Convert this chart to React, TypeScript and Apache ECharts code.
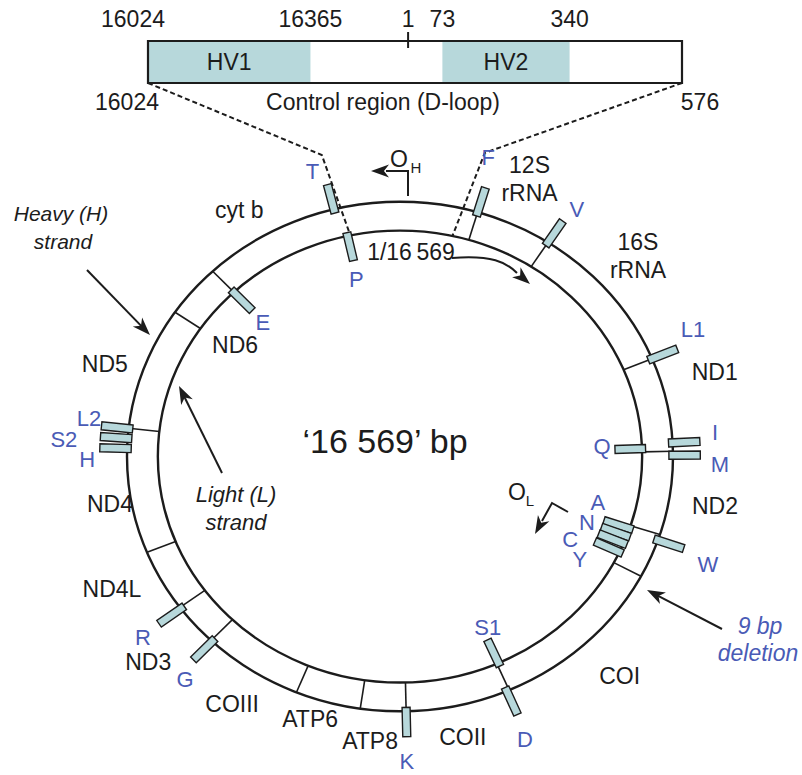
import React, { useEffect, useRef } from "react";
import * as echarts from "echarts";

// ---------------- data ----------------
const GENOME_LENGTH = 16569;
const CONTROL_START = 16024;
const CONTROL_END = 576;

const geneNames = ["12S\nrRNA", "16S\nrRNA", "ND1", "ND2", "COI", "COII", "ATP8", "ATP6", "COIII", "ND3", "ND4L", "ND4", "ND5", "ND6", "cyt b"];
// bp positions of the gene boundaries drawn across the ring
const geneBoundaries = [760, 1510, 3102, 4087, 4962, 5431, 7200, 8225, 8670, 9310, 10300, 10756, 11410, 12720, 14015, 14575];

const trnaNames = ["F", "V", "L1", "I", "Q", "M", "W", "A", "N", "C", "Y", "S1", "D", "K", "G", "R", "H", "S2", "L2", "E", "T", "P"];
const trnaPositions = [760, 1510, 3102, 4000, 4050, 4128, 5025, 4998, 5090, 5182, 5293, 7180, 7225, 8225, 10285, 10740, 12510, 12615, 12717, 14572, 15925, 15994];
const trnaStrands = ["H", "H", "H", "H", "L", "H", "H", "L", "L", "L", "L", "L", "H", "H", "H", "H", "H", "H", "H", "L", "H", "L"];

const hvNames = ["HV1", "HV2"];
const hvStarts = [16024, 73];
const hvEnds = [16365, 340];
const boxTickLabels = ["16024", "16365", "1", "73", "340"];
const boxTickPositions = [16024, 16365, 1, 73, 340];
const boxEndLabels = ["16024", "576"];
const boxEndPositions = [16024, 576];
const originPosition = 1;
const genomeSizeLabel = "\u201816 569\u2019 bp";
const originLabel = "1/16\u2009569";

// ---------------- layout & style ----------------
const CX = 400, CY = 457, RX = 273, RY = 255;
const INNER = 0.887;
const OUT_BAR = [0.985, 1.1];
const IN_BAR = [0.9, 0.788];
const BAR_WIDTH = 8;
const FONT = "'Liberation Sans', Arial, Helvetica, sans-serif";
const BLACK = "#1c1c1c";
const BLUE = "#4a5bb6";
const TEAL = "#b7d8db";
const GENE_FS = 23;
const TRNA_FS = 22;

// label centres as [angle in degrees clockwise from top, radius relative to outer ring]
const geneLabelPolar = [
  [23.5, 1.19], [47.9, 1.175], [73.9, 1.2], [99.6, 1.17], [137, 1.18], [168.2, 1.126], [185.6, 1.123], [197.7, 1.083],
  [212.3, 1.151], [228.9, 1.224], [243.7, 1.177], [260, 1.079], [288.5, 1.14], [306, 0.747], [328.7, 1.134],
];
const trnaLabelPolar = [
  [15.4, 1.216], [33.8, 1.165], [65.1, 1.183], [85.3, 1.158], [87, 0.741], [91.5, 1.172], [110.6, 1.205], [104, 0.747],
  [110.7, 0.732], [117.6, 0.703], [121.5, 0.773], [154.4, 0.744], [157.6, 1.2], [178.8, 1.196], [222, 1.177], [233, 1.179],
  [269.4, 1.146], [273.1, 1.233], [277.5, 1.149], [316.3, 0.727], [344, 1.163], [347, 0.712],
];
const boxTickShift = [-15, 0, 0, 0, 0];
const boxEndShift = [-21, 18];
const connectorBends = [[-13.6, 1.218], [14.6, 1.232]];

const toSigned = (bp: number) => (bp >= CONTROL_START ? bp - GENOME_LENGTH : bp);
const bpDeg = (bp: number) => (bp / GENOME_LENGTH) * 360;
const polar = (deg: number, r: number) => {
  const a = (deg * Math.PI) / 180;
  return [r * Math.sin(a), r * Math.cos(a)];
};

function barPolygon(a: number[], b: number[], w: number) {
  const dx = b[0] - a[0], dy = b[1] - a[1];
  const d = Math.hypot(dx, dy) || 1;
  const nx = (-dy / d) * (w / 2), ny = (dx / d) * (w / 2);
  return [
    [a[0] + nx, a[1] + ny], [b[0] + nx, b[1] + ny], [b[0] - nx, b[1] - ny], [a[0] - nx, a[1] - ny],
  ];
}

function arrowHead(tx: number, ty: number, ux: number, uy: number, len = 18, half = 6.5) {
  const nx = -uy, ny = ux;
  const bx = tx - ux * len, by = ty - uy * len;
  const mx = tx - ux * len * 0.72, my = ty - uy * len * 0.72;
  return {
    type: "polygon",
    silent: true,
    shape: { points: [[tx, ty], [bx + nx * half, by + ny * half], [mx, my], [bx - nx * half, by - ny * half]] },
    style: { fill: BLACK },
  };
}

function straightArrow(x1: number, y1: number, x2: number, y2: number) {
  const dx = x2 - x1, dy = y2 - y1, d = Math.hypot(dx, dy);
  const ux = dx / d, uy = dy / d;
  return [
    { type: "line", silent: true, shape: { x1, y1, x2: x2 - ux * 12, y2: y2 - uy * 12 }, style: { stroke: BLACK, lineWidth: 2 } },
    arrowHead(x2, y2, ux, uy),
  ];
}

function txt(x: number, y: number, text: string, opts: any = {}) {
  return {
    type: "text",
    silent: true,
    x,
    y,
    style: {
      text,
      fill: opts.fill || BLACK,
      fontSize: opts.fontSize || GENE_FS,
      fontFamily: FONT,
      fontStyle: opts.italic ? "italic" : "normal",
      align: opts.align || "center",
      verticalAlign: "middle",
      lineHeight: opts.lineHeight,
    },
  };
}

function buildOption() {
  return {
    animation: false,
    backgroundColor: "#ffffff",
    grid: [
      { left: CX - 1.4 * RX, top: CY - 1.75 * RY, width: 2.8 * RX, height: 3 * RY },
      { left: 148, top: 41, width: 534, height: 42 },
    ],
    xAxis: [
      { gridIndex: 0, type: "value", min: -1.4, max: 1.4, show: false },
      { gridIndex: 1, type: "value", min: toSigned(CONTROL_START), max: CONTROL_END, show: false },
    ],
    yAxis: [
      { gridIndex: 0, type: "value", min: -1.25, max: 1.75, show: false },
      { gridIndex: 1, type: "value", min: 0, max: 1, show: false },
    ],
    series: [
      // the two strands
      {
        type: "custom",
        xAxisIndex: 0,
        yAxisIndex: 0,
        silent: true,
        data: [[0, 0]],
        renderItem: (_p: any, api: any) => {
          const c = api.coord([0, 0]);
          const rx = api.coord([1, 0])[0] - c[0];
          const ry = c[1] - api.coord([0, 1])[1];
          return {
            type: "group",
            children: [
              { type: "ellipse", shape: { cx: c[0], cy: c[1], rx, ry }, style: { fill: "none", stroke: BLACK, lineWidth: 2.4 } },
              { type: "ellipse", shape: { cx: c[0], cy: c[1], rx: rx * INNER, ry: ry * INNER }, style: { fill: "none", stroke: BLACK, lineWidth: 2.4 } },
            ],
          };
        },
      },
      // gene boundaries
      {
        type: "custom",
        xAxisIndex: 0,
        yAxisIndex: 0,
        silent: true,
        data: geneBoundaries.map((p) => [p]),
        renderItem: (_p: any, api: any) => {
          const deg = bpDeg(api.value(0));
          const a = api.coord(polar(deg, INNER));
          const b = api.coord(polar(deg, 1));
          return { type: "line", shape: { x1: a[0], y1: a[1], x2: b[0], y2: b[1] }, style: { stroke: BLACK, lineWidth: 1.6 } };
        },
      },
      // tRNA genes
      {
        type: "custom",
        xAxisIndex: 0,
        yAxisIndex: 0,
        silent: true,
        data: trnaPositions.map((p) => [p]),
        renderItem: (params: any, api: any) => {
          const i = params.dataIndex;
          const deg = bpDeg(api.value(0));
          const [r1, r2] = trnaStrands[i] === "H" ? OUT_BAR : IN_BAR;
          const a = api.coord(polar(deg, r1));
          const b = api.coord(polar(deg, r2));
          const lp = api.coord(polar(trnaLabelPolar[i][0], trnaLabelPolar[i][1]));
          return {
            type: "group",
            children: [
              { type: "polygon", shape: { points: barPolygon(a, b, BAR_WIDTH) }, style: { fill: TEAL, stroke: BLACK, lineWidth: 1.4 } },
              txt(lp[0], lp[1], trnaNames[i], { fill: BLUE, fontSize: TRNA_FS }),
            ],
          };
        },
      },
      // protein / rRNA gene labels
      {
        type: "custom",
        xAxisIndex: 0,
        yAxisIndex: 0,
        silent: true,
        data: geneNames.map(() => [0, 0]),
        renderItem: (params: any, api: any) => {
          const i = params.dataIndex;
          const lp = api.coord(polar(geneLabelPolar[i][0], geneLabelPolar[i][1]));
          return txt(lp[0], lp[1], geneNames[i], { lineHeight: 28 });
        },
      },
      // control region box: hypervariable segments
      {
        type: "custom",
        xAxisIndex: 1,
        yAxisIndex: 1,
        silent: true,
        data: hvNames.map((_, i) => [toSigned(hvStarts[i]), toSigned(hvEnds[i])]),
        renderItem: (params: any, api: any) => {
          const a = api.coord([api.value(0), 1]);
          const b = api.coord([api.value(1), 0]);
          return {
            type: "group",
            children: [
              { type: "rect", shape: { x: a[0], y: a[1], width: b[0] - a[0], height: b[1] - a[1] }, style: { fill: TEAL } },
              txt((a[0] + b[0]) / 2, (a[1] + b[1]) / 2, hvNames[params.dataIndex], { fontSize: 23 }),
            ],
          };
        },
      },
      // control region box outline, origin tick, labels
      {
        type: "custom",
        xAxisIndex: 1,
        yAxisIndex: 1,
        silent: true,
        data: [[toSigned(CONTROL_START), CONTROL_END]],
        renderItem: (_p: any, api: any) => {
          const a = api.coord([api.value(0), 1]);
          const b = api.coord([api.value(1), 0]);
          const t1 = api.coord([originPosition, 1.214]);
          const t2 = api.coord([originPosition, 0.833]);
          const children: any[] = [
            { type: "rect", shape: { x: a[0], y: a[1], width: b[0] - a[0], height: b[1] - a[1] }, style: { fill: "none", stroke: BLACK, lineWidth: 2.2 } },
            { type: "line", shape: { x1: t1[0], y1: t1[1], x2: t2[0], y2: t2[1] }, style: { stroke: BLACK, lineWidth: 2 } },
          ];
          boxTickPositions.forEach((p, i) => {
            const q = api.coord([toSigned(p), 1.52]);
            children.push(txt(q[0] + boxTickShift[i], q[1], boxTickLabels[i], { fontSize: 23 }));
          });
          boxEndPositions.forEach((p, i) => {
            const q = api.coord([toSigned(p), -0.45]);
            children.push(txt(q[0] + boxEndShift[i], q[1], boxEndLabels[i], { fontSize: 23 }));
          });
          return { type: "group", children };
        },
      },
    ],
  };
}

function annotationGraphics(chart: any) {
  const g: any[] = [];
  // dashed connectors from the box corners to the control region on the ring
  const ends = [CONTROL_START, CONTROL_END];
  ends.forEach((p, i) => {
    const corner = chart.convertToPixel({ gridIndex: 1 }, [toSigned(p), 0]);
    const bend = chart.convertToPixel({ gridIndex: 0 }, polar(connectorBends[i][0], connectorBends[i][1]));
    const ring = chart.convertToPixel({ gridIndex: 0 }, polar(bpDeg(p), INNER));
    g.push({
      type: "polyline",
      silent: true,
      shape: { points: [corner, bend, ring] },
      style: { fill: "none", stroke: BLACK, lineWidth: 2, lineDash: [5, 3] },
    });
  });

  // genome size
  g.push(txt(385, 441, genomeSizeLabel, { fontSize: 34 }));
  g.push(txt(411, 252, originLabel, { fontSize: 23 }));
  g.push({
    type: "bezierCurve",
    silent: true,
    shape: { x1: 452, y1: 258, cpx1: 492, cpy1: 255, cpx2: 506, cpy2: 262, x2: 517, y2: 273 },
    style: { fill: "none", stroke: BLACK, lineWidth: 2 },
  });
  g.push(arrowHead(530, 284, 0.76, 0.65));

  // origins of replication
  g.push(txt(399, 159, "O", { fontSize: 23 }));
  g.push(txt(416, 167, "H", { fontSize: 15 }));
  g.push({
    type: "polyline",
    silent: true,
    shape: { points: [[408, 196], [408, 171], [386, 171]] },
    style: { fill: "none", stroke: BLACK, lineWidth: 2 },
  });
  g.push(arrowHead(371, 171, -1, 0));

  g.push(txt(517, 492, "O", { fontSize: 23 }));
  g.push(txt(530, 500, "L", { fontSize: 15 }));
  g.push({
    type: "polyline",
    silent: true,
    shape: { points: [[568, 512], [552, 503], [542, 521]] },
    style: { fill: "none", stroke: BLACK, lineWidth: 2 },
  });
  {
    const dx = 535 - 552, dy = 534 - 503, d = Math.hypot(dx, dy);
    g.push(arrowHead(535, 534, dx / d, dy / d));
  }

  // strands
  g.push(txt(61, 213, "Heavy (H)", { fontSize: 21, italic: true }));
  g.push(txt(63, 241, "strand", { fontSize: 21, italic: true }));
  g.push(...straightArrow(87, 270, 150, 335));
  g.push(txt(236, 494, "Light (L)", { fontSize: 22, italic: true }));
  g.push(txt(236, 522, "strand", { fontSize: 22, italic: true }));
  g.push(...straightArrow(222, 473, 179, 386));

  // 9 bp deletion
  g.push(txt(760, 626, "9 bp", { fontSize: 23, italic: true, fill: BLUE }));
  g.push(txt(758, 653, "deletion", { fontSize: 23, italic: true, fill: BLUE }));
  g.push(...straightArrow(722, 629, 647, 590));

  g.push(txt(383, 102, "Control region (D-loop)", { fontSize: 23 }));
  return g;
}

export default function App() {
  const ref = useRef<HTMLDivElement>(null);
  useEffect(() => {
    if (!ref.current) return;
    const chart = echarts.init(ref.current, null, { renderer: "svg" });
    chart.setOption(buildOption() as any);
    chart.setOption({ graphic: { elements: annotationGraphics(chart) } } as any);
    return () => chart.dispose();
  }, []);
  return (
    <div
      ref={ref}
      style={{ position: "fixed", left: 0, top: 0, width: 802, height: 775, background: "#ffffff" }}
    />
  );
}
